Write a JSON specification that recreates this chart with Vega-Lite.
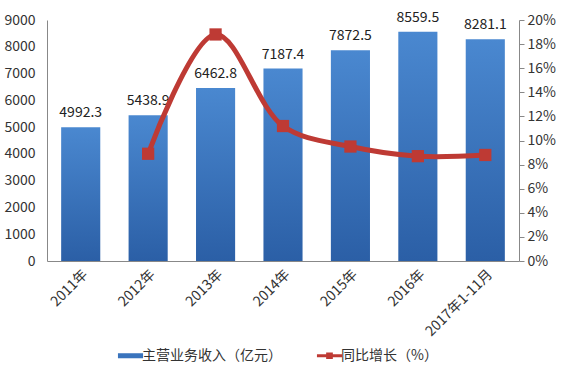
{
  "$schema": "https://vega.github.io/schema/vega-lite/v6.json",
  "autosize": {"type": "none"},
  "width": 472,
  "height": 241,
  "padding": {"left": 47, "top": 20, "right": 42, "bottom": 115},
  "background": "white",
  "config": {
    "view": {"stroke": null},
    "font": "Noto Sans CJK SC",
    "axis": {"grid": false, "labelColor": "#333333", "labelFontSize": 14, "domainColor": "#888888", "tickColor": "#888888", "labelOverlap": false, "labelFont": "Noto Sans CJK SC"}
  },
  "data": {
    "values": [
      {"year": "2011年", "revenue": 4992.3, "growth": null},
      {"year": "2012年", "revenue": 5438.9, "growth": 0.089},
      {"year": "2013年", "revenue": 6462.8, "growth": 0.188},
      {"year": "2014年", "revenue": 7187.4, "growth": 0.112},
      {"year": "2015年", "revenue": 7872.5, "growth": 0.095},
      {"year": "2016年", "revenue": 8559.5, "growth": 0.087},
      {"year": "2017年1-11月", "revenue": 8281.1, "growth": 0.088}
    ]
  },
  "encoding": {
    "x": {
      "field": "year", "type": "ordinal", "sort": null,
      "scale": {"paddingInner": 0.42, "paddingOuter": 0.21},
      "axis": {"title": null, "labelAngle": -45, "labelAlign": "right", "labelBaseline": "top", "labelFontSize": 14, "ticks": false, "labelPadding": 6}
    }
  },
  "layer": [
    {
      "encoding": {
        "y": {"field": "revenue", "type": "quantitative", "scale": {"domain": [0, 9000]}, "axis": {"title": null, "format": "d", "values": [0,1000,2000,3000,4000,5000,6000,7000,8000,9000], "ticks": false, "labelPadding": 12, "labelOverlap": false, "labelFlush": false, "labelBound": false}}
      },
      "layer": [
        {
          "mark": {"type": "bar", "color": {"gradient": "linear", "x1": 0, "y1": 0, "x2": 0, "y2": 1, "stops": [{"offset": 0, "color": "#4a88d0"}, {"offset": 1, "color": "#2b5fa6"}]}}
        },
        {
          "mark": {"type": "text", "baseline": "bottom", "dy": -7, "fontSize": 14, "color": "#222222"},
          "encoding": {
            "text": {"field": "revenue", "type": "quantitative", "format": ".1f"}
          }
        }
      ]
    },
    {
      "transform": [{"filter": "datum.growth != null"}],
      "encoding": {
        "y": {"field": "growth", "type": "quantitative", "scale": {"domain": [0, 0.2]}, "axis": {"title": null, "orient": "right", "format": ".0%", "values": [0,0.02,0.04,0.06,0.08,0.1,0.12,0.14,0.16,0.18,0.2], "tickSize": 5, "labelPadding": 3, "labelOverlap": false, "labelFlush": false, "labelBound": false}},
        "color": {
          "datum": "同比增长（%）", "type": "nominal",
          "scale": {"domain": ["主营业务收入（亿元）", "同比增长（%）"], "range": ["#3a74bd", "#be3a34"]},
          "legend": {
            "title": null, "orient": "none", "legendX": 75, "legendY": 327, "direction": "horizontal",
            "labelFontSize": 14, "labelColor": "#333333", "columnPadding": 34, "labelOffset": 3,
            "symbolSize": 280, "symbolStrokeWidth": 0,
            "encode": {"symbols": {"update": {"shape": {"signal": "datum.value === '同比增长（%）' ? 'M-1.5,-0.17H-0.4V-0.4H0.4V-0.17H1.5V0.17H0.4V0.4H-0.4V0.17H-1.5Z' : 'M-1.5,-0.3H1.5V0.3H-1.5Z'"}, "fillOpacity": {"value": 1}}}}
          }
        }
      },
      "layer": [
        {
          "mark": {"type": "line", "interpolate": "catmull-rom", "strokeWidth": 5}
        },
        {
          "mark": {"type": "point", "shape": "square", "filled": true, "size": 150, "opacity": 1}
        }
      ]
    }
  ],
  "resolve": {"scale": {"y": "independent"}}
}
